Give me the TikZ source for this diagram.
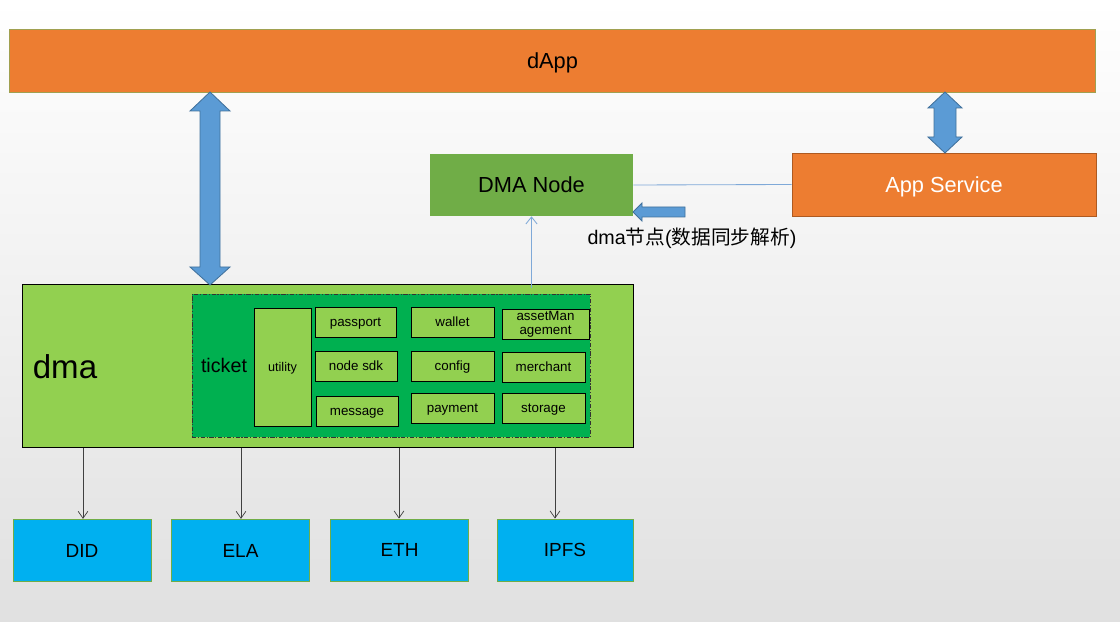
\documentclass[tikz,border=0pt]{standalone}
\usepackage{fontspec}
\setmainfont{Liberation Sans}
\newfontfamily\cjkfont{Noto Sans CJK SC}
\usepackage{tikz}
\usetikzlibrary{positioning,arrows.meta}

\definecolor{appOrange}{HTML}{ED7D31}
\definecolor{appEdge}{HTML}{AE5A21}
\definecolor{dappEdge}{HTML}{A0A050}
\definecolor{nodeGreen}{HTML}{70AD47}
\definecolor{dmaGreen}{HTML}{92D050}
\definecolor{ticketGreen}{HTML}{00B050}
\definecolor{chainBlue}{HTML}{00B0F0}
\definecolor{chainEdge}{HTML}{70AD47}
\definecolor{arrowBlue}{HTML}{5B9BD5}
\definecolor{arrowEdge}{HTML}{41719C}
\definecolor{linkBlue}{HTML}{7FA9D8}

\tikzset{
  oneline/.style={text height=#1, text depth=0pt},
  orangebox/.style={fill=appOrange, draw=appEdge, line width=0.6pt},
  cell/.style={draw=black, fill=dmaGreen, line width=0.6pt, minimum height=0.75cm,
    font=\fontsize{9.5}{10}\selectfont, oneline=6.8pt},
  chainbox/.style={fill=chainBlue, draw=chainEdge, line width=0.6pt, minimum width=3.43cm,
    minimum height=1.56cm, font=\fontsize{13.5}{16}\selectfont, oneline=9.7pt},
  blockarrow/.style={fill=arrowBlue, draw=arrowEdge, line width=0.6pt},
  link/.style={draw=linkBlue, line width=0.6pt},
  down/.style={-{Straight Barb[length=5pt,width=7pt]}, draw=black!75, line width=0.5pt}
}

\begin{document}
\begin{tikzpicture}[x=0.025cm,y=-0.025cm, every node/.style={inner sep=0pt}]
%%%%%%%%%%%%%%%%%%Draw Background%%%%%%%%%%%%%%%
\useasboundingbox (0,0) rectangle (1120,622);
\shade[top color=white, bottom color=gray!24] (0,0) rectangle (1120,622);

%%%%%%%%%%%%%%Draw The Top Boxes%%%%%%%%%%%%%%
\node[fill=appOrange, draw=dappEdge, line width=0.6pt, minimum width=27.125cm, minimum height=1.575cm,
  font=\fontsize{15.5}{18}\selectfont, oneline=11.1pt] (dapp) at (552.5,60.5) {dApp};
\node[fill=nodeGreen, minimum width=5.075cm, minimum height=1.55cm,
  font=\fontsize{15.5}{18}\selectfont, oneline=11.1pt] (dmanode) at (531.5,185) {DMA Node};
\node[orangebox, minimum width=7.6cm, minimum height=1.575cm, text=white,
  font=\fontsize{15.5}{18}\selectfont, oneline=11.1pt] (appsvc) at (944,184.5) {App Service};
\node[font=\fontsize{14}{16}\selectfont] (sync) at (692,238)
  {dma{\cjkfont 节点}({\cjkfont 数据同步解析})};

%%%%%%%%%%%%%%Draw The dma Box%%%%%%%%%%%%%%
\node[fill=dmaGreen, draw=black, line width=0.7pt, minimum width=15.25cm, minimum height=4.05cm] (dma) at (328,366) {};
\node[font=\fontsize{23.5}{26}\selectfont, oneline=16.8pt] (dmalabel) at (65,367) {dma};
\node[fill=ticketGreen, draw=black!80, line width=0.6pt, dash pattern=on 3pt off 1.2pt on 0.8pt off 1.2pt,
  minimum width=9.95cm, minimum height=3.575cm] (ticket) at (391,365.5) {};
\node[font=\fontsize{14}{16}\selectfont, oneline=10pt] (ticketlabel) at (224,365) {ticket};

%%%%%%%%%%%%%%Draw The Modules%%%%%%%%%%%%%%
\node[cell, minimum width=1.425cm, minimum height=2.95cm, font=\fontsize{9}{10}\selectfont, oneline=6.4pt] (utility) at (282.5,367) {utility};
\node[cell, minimum width=2.025cm] (passport) at (355.5,322) {passport};
\node[cell, minimum width=2.05cm] (nodesdk) at (356,366) {node sdk};
\node[cell, minimum width=2.05cm] (message) at (357,411) {message};
\node[cell, minimum width=2.075cm] (wallet) at (452.5,322) {wallet};
\node[cell, minimum width=2.075cm] (config) at (452.5,366) {config};
\node[cell, minimum width=2.075cm] (payment) at (452.5,408) {payment};
\node[cell, minimum width=2.175cm, align=center, text height=, text depth=] (asset) at (545.5,324) {assetMan\\agement};
\node[cell, minimum width=2.075cm] (merchant) at (543.5,367) {merchant};
\node[cell, minimum width=2.075cm] (storage) at (543.5,408) {storage};

%%%%%%%%%%%%%%Draw The Chain Boxes%%%%%%%%%%%%%%
\node[chainbox, minimum width=3.45cm] (did) at (82,550.5) {DID};
\node[chainbox] (ela) at (240.5,550.5) {ELA};
\node[chainbox, minimum height=1.55cm] (eth) at (399.5,550) {ETH};
\node[chainbox, minimum width=3.4cm, minimum height=1.55cm] (ipfs) at (565,550) {IPFS};

%%%%%%%%%%%%%%Draw The Block Arrows%%%%%%%%%%%%%%
\draw[blockarrow] (210,92) -- (230,111) -- (220,111) -- (220,267) -- (230,267) -- (210,285)
  -- (190,267) -- (200,267) -- (200,111) -- (190,111) -- cycle;
\draw[blockarrow] (945,92) -- (962,108) -- (956,108) -- (956,137) -- (962,137) -- (945,153)
  -- (928,137) -- (934,137) -- (934,108) -- (928,108) -- cycle;
\draw[blockarrow] (633,212) -- (642,203) -- (642,207) -- (685,207) -- (685,217) -- (642,217)
  -- (642,221) -- cycle;

%%%%%%%%%%%%%%Draw The Thin Links%%%%%%%%%%%%%%
\draw[link] (appsvc.west) -- (dmanode.east);
\draw[link, -{Straight Barb[length=5pt,width=8pt]}] ([yshift=-0.08cm]dmanode.south |- dma.north) -- (dmanode.south);

%%%%%%%%%%%%%%Draw Maps From dma to Chains%%%%%%%%%%%%%%
\draw[down] (dma.south -| 83,0) -- (did.north -| 83,0);
\draw[down] (dma.south -| 241,0) -- (ela.north -| 241,0);
\draw[down] (dma.south -| 399,0) -- (eth.north -| 399,0);
\draw[down] (dma.south -| 555,0) -- (ipfs.north -| 555,0);

\end{tikzpicture}
\end{document}
